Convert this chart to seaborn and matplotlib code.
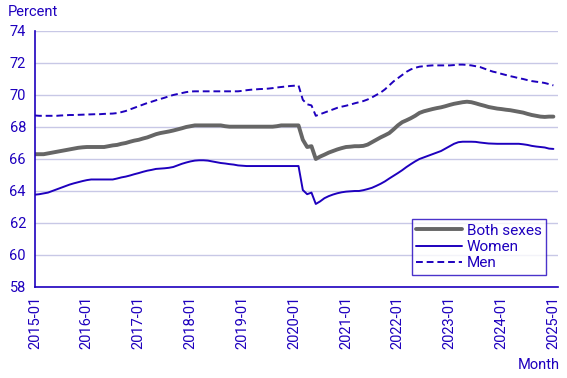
import numpy as np
import pandas as pd
import seaborn as sns
import matplotlib.pyplot as plt

# Monthly values, 2015-01 .. 2025-01 (121 months)
years = list(range(2015, 2026))
tick_labels = [f"{y}-01" for y in years]

both_sexes = [
    66.3, 66.3, 66.3, 66.35, 66.4, 66.45, 66.5, 66.55, 66.6, 66.65, 66.7, 66.73,
    66.75, 66.75, 66.75, 66.75, 66.75, 66.8, 66.85, 66.88, 66.95, 67.0, 67.08, 67.15,
    67.2, 67.28, 67.35, 67.45, 67.55, 67.62, 67.67, 67.72, 67.78, 67.85, 67.92, 68.0,
    68.05, 68.1, 68.1, 68.1, 68.1, 68.1, 68.1, 68.1, 68.05, 68.02, 68.02, 68.02,
    68.02, 68.02, 68.02, 68.02, 68.02, 68.02, 68.02, 68.02, 68.05, 68.1, 68.1, 68.1,
    68.1, 68.1, 67.2, 66.75, 66.8, 66.0, 66.15, 66.27, 66.4, 66.5, 66.6, 66.68,
    66.75, 66.77, 66.8, 66.8, 66.82, 66.9, 67.05, 67.2, 67.35, 67.48, 67.62, 67.85,
    68.1, 68.3, 68.42, 68.55, 68.7, 68.88, 68.98, 69.05, 69.12, 69.18, 69.23, 69.3,
    69.38, 69.45, 69.5, 69.55, 69.58, 69.55, 69.48, 69.4, 69.33, 69.25, 69.2, 69.15,
    69.12, 69.08, 69.05, 69.0, 68.95, 68.9, 68.82, 68.75, 68.7, 68.65, 68.63, 68.65,
    68.65,
]

women = [
    63.77, 63.8, 63.85, 63.9, 64.0, 64.1, 64.2, 64.3, 64.4, 64.48, 64.55, 64.62,
    64.68, 64.72, 64.72, 64.72, 64.72, 64.72, 64.72, 64.78, 64.85, 64.9, 64.97, 65.05,
    65.12, 65.2, 65.27, 65.32, 65.38, 65.4, 65.42, 65.45, 65.5, 65.6, 65.7, 65.78,
    65.85, 65.9, 65.92, 65.92, 65.9, 65.85, 65.8, 65.75, 65.72, 65.68, 65.65, 65.6,
    65.58, 65.56, 65.56, 65.56, 65.56, 65.56, 65.56, 65.56, 65.56, 65.56, 65.56, 65.56,
    65.56, 65.56, 64.06, 63.8, 63.9, 63.19, 63.35, 63.55, 63.68, 63.78, 63.86, 63.92,
    63.96, 63.98, 64.0, 64.0, 64.05, 64.12, 64.2, 64.32, 64.45, 64.6, 64.78, 64.95,
    65.12, 65.3, 65.5, 65.68, 65.85, 66.0, 66.1, 66.2, 66.3, 66.4, 66.5, 66.65,
    66.8, 66.95, 67.05, 67.08, 67.08, 67.08, 67.07, 67.03, 67.0, 66.97, 66.96, 66.95,
    66.95, 66.95, 66.95, 66.95, 66.95, 66.92, 66.88, 66.82, 66.78, 66.75, 66.72, 66.65,
    66.63,
]

men = [
    68.72, 68.7, 68.7, 68.7, 68.7, 68.7, 68.72, 68.73, 68.75, 68.75, 68.76, 68.77,
    68.78, 68.79, 68.8, 68.8, 68.82, 68.83, 68.84, 68.87, 68.93, 69.0, 69.1, 69.2,
    69.3, 69.4, 69.5, 69.58, 69.67, 69.75, 69.83, 69.92, 70.0, 70.06, 70.12, 70.18,
    70.22, 70.23, 70.23, 70.23, 70.23, 70.23, 70.23, 70.23, 70.23, 70.23, 70.23, 70.23,
    70.26, 70.3, 70.33, 70.35, 70.37, 70.38, 70.4, 70.43, 70.47, 70.5, 70.53, 70.56,
    70.58, 70.6, 69.7, 69.42, 69.35, 68.7, 68.8, 68.9, 69.0, 69.1, 69.2, 69.27,
    69.33, 69.4, 69.48, 69.55, 69.62, 69.72, 69.85, 70.0, 70.15, 70.35, 70.6, 70.85,
    71.05, 71.25, 71.45, 71.6, 71.7, 71.77, 71.8, 71.83, 71.85, 71.85, 71.85, 71.85,
    71.85, 71.87, 71.9, 71.9, 71.88, 71.85, 71.8, 71.75, 71.65, 71.55, 71.46, 71.4,
    71.32, 71.25, 71.18, 71.12, 71.05, 71.0, 70.93, 70.87, 70.83, 70.8, 70.75, 70.68,
    70.6,
]

blue = "#1E00BE"
grey = "#666666"
grid = "#C8C8E6"

sns.set_style("white")
plt.rcParams["font.family"] = ["Roboto", "DejaVu Sans"]

month = np.arange(len(both_sexes))
df = pd.DataFrame({"month": month, "Both sexes": both_sexes,
                   "Women": women, "Men": men})

fig = plt.figure(figsize=(5.67, 3.78), dpi=100)
ax = fig.add_axes([35 / 567, 1 - 287 / 378, (557.7 - 35) / 567, (287 - 31) / 378])

sns.lineplot(data=df, x="month", y="Both sexes", ax=ax, color=grey,
             linewidth=2.8, label="Both sexes")
sns.lineplot(data=df, x="month", y="Women", ax=ax, color=blue,
             linewidth=1.4, label="Women")
sns.lineplot(data=df, x="month", y="Men", ax=ax, color=blue,
             linewidth=1.4, linestyle=(0, (3.5, 2)), label="Men")

ax.set_xlim(0, 121)
ax.set_ylim(58, 74)
ax.set_yticks(range(58, 75, 2))
ax.set_xticks(np.arange(0, 121, 12))
ax.set_xticklabels(tick_labels, rotation=90)
ax.grid(axis="y", color=grid, linewidth=1)
ax.set_axisbelow(True)

for side in ["top", "right"]:
    ax.spines[side].set_visible(False)
for side in ["left", "bottom"]:
    ax.spines[side].set_color(blue)
    ax.spines[side].set_linewidth(1.2)
ax.tick_params(axis="both", colors=blue, labelcolor=blue, labelsize=10.5,
               length=4.5, width=1.2, direction="out", pad=2)
ax.set_xlabel("")
ax.set_ylabel("")

fig.text(8 / 567, 1 - 12 / 378, "Percent", color=blue, fontsize=10.5,
         ha="left", va="center")
fig.text(560 / 567, 1 - 365 / 378, "Month", color=blue, fontsize=10.5,
         ha="right", va="center")

leg = ax.legend(loc="lower right", bbox_to_anchor=(546 / 567, 1 - 275 / 378),
                bbox_transform=fig.transFigure, fontsize=11, frameon=True,
                fancybox=False, handlelength=3.0, handletextpad=0.3,
                labelspacing=0.15, borderpad=0.3, borderaxespad=0)
leg.get_frame().set_edgecolor(blue)
leg.get_frame().set_linewidth(1.0)
for t in leg.get_texts():
    t.set_color(blue)

fig.savefig("out.png", dpi=100)
